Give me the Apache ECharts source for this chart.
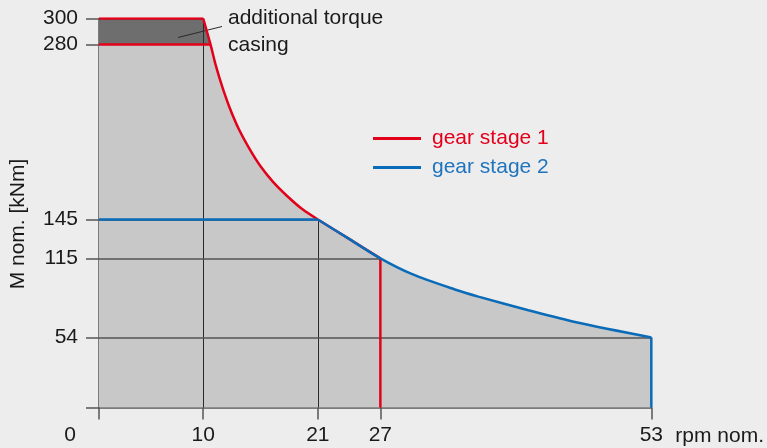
<!DOCTYPE html>
<html>
<head>
<meta charset="utf-8">
<script src="https://cdn.jsdelivr.net/npm/echarts@6/dist/echarts.min.js"></script>
<style>
html,body{margin:0;padding:0;background:#ededed;}
#chart{width:767px;height:448px;}
</style>
</head>
<body>
<div id="chart"></div>
<script>
// ---- data ----
var xTicks = [0, 10, 21, 27, 53];
var yTicks = [0, 54, 115, 145, 280, 300];
var yLabels = [54, 115, 145, 280, 300];
// gear stage 1 (red)
var stage1Top = [[0, 300], [10, 300]];
var stage1Curve = [[10, 300], [10.7, 280], [11.2, 264], [11.8, 248], [12.5, 232], [13.4, 215], [14.4, 200], [15.5, 186], [16.7, 174], [18, 163.5], [19.5, 153], [21, 145]];
var stage1Shared = [[21, 145], [24, 130], [27, 115]];
var stage1Drop = [[27, 115], [27, 0]];
var casingBase = [[0, 280], [10.7, 280]];
// gear stage 2 (blue)
var stage2Flat = [[0, 145], [21, 145]];
var stage2Curve = [[21, 145], [24, 130], [27, 115], [30, 103], [34.15, 91], [36.4, 85.5], [41.2, 75], [45.9, 65.5], [53, 54]];
var stage2Drop = [[53, 54], [53, 0]];
// corner points of guide lines
var corners = [[10, 300], [21, 145], [27, 115], [53, 54]];
var casingLevel = 280;

var RED = '#e3001b', BLUE = '#0a6cb8';
var FONT = 'Liberation Sans, Arial, Helvetica, sans-serif';

var casingArea = stage1Top.concat([stage1Curve[1]]);

var guides = [];
corners.forEach(function (c) {
  guides.push([{ coord: [c[0], c[1]], lineStyle: { color: '#2a2a2a', width: 1, type: 'solid' } }, { coord: [c[0], 0] }]);
  guides.push([{ coord: [0, c[1]], lineStyle: { color: '#555', width: 1.5, type: 'solid' } }, { coord: [c[0], c[1]] }]);
});

var chart = echarts.init(document.getElementById('chart'));
function lineSeries(name, data, color, smooth, z) {
  return { name: name, type: 'line', data: data, smooth: smooth ? 0.3 : false,
    showSymbol: false, symbol: 'none',
    lineStyle: { color: color, width: 2.5 }, itemStyle: { color: color }, z: z, silent: true, animation: false };
}
function fillSeries(data, smooth) {
  return { name: 'fill', type: 'line', data: data, showSymbol: false, symbol: 'none',
    smooth: smooth ? 0.3 : false,
    lineStyle: { width: 0 }, areaStyle: { color: '#c8c8c8', opacity: 1 }, z: 1, silent: true };
}
chart.setOption({
  backgroundColor: '#ededed',
  animation: false,
  textStyle: { fontFamily: FONT },
  grid: { left: 99, right: 113, top: 18.5, bottom: 40.5 },
  legend: {
    orient: 'vertical', left: 373, top: 128, padding: 0, itemGap: 8, itemWidth: 48, itemHeight: 3, icon: 'rect',
    textStyle: { fontSize: 21, fontFamily: FONT, padding: [0, 0, 0, 6] },
    data: [
      { name: 'gear stage 1', textStyle: { color: RED } },
      { name: 'gear stage 2', textStyle: { color: '#1f74bd' } }
    ]
  },
  xAxis: {
    type: 'value', min: 0, max: 53,
    name: '{n|rpm nom.}', nameLocation: 'end', nameGap: 24,
    nameTextStyle: { fontSize: 21, color: '#1a1a1a', fontFamily: FONT,
      rich: { n: { fontSize: 21, color: '#1a1a1a', fontFamily: FONT, padding: [58, 0, 0, 0] } } },
    splitLine: { show: false },
    axisLine: { show: true, lineStyle: { color: '#555', width: 1.5 } },
    axisTick: { show: true, customValues: xTicks, length: 12, lineStyle: { color: '#555', width: 1.5 } },
    axisLabel: {
      customValues: xTicks, margin: 17, fontSize: 21, color: '#1a1a1a', fontFamily: FONT,
      formatter: function (v) { return v === 0 ? '{o|0}' : String(v); },
      rich: { o: { fontSize: 21, color: '#1a1a1a', fontFamily: FONT, padding: [0, 58, 0, 0] } }
    }
  },
  yAxis: {
    type: 'value', min: 0, max: 300,
    name: 'M nom. [kNm]', nameLocation: 'middle', nameGap: 70, nameRotate: 90,
    nameTextStyle: { fontSize: 21, color: '#1a1a1a', fontFamily: FONT, padding: [0, 22, 0, 0] },
    splitLine: { show: false },
    axisLine: { show: true, lineStyle: { color: '#555', width: 1.5 } },
    axisTick: { show: true, customValues: yTicks, length: 13, lineStyle: { color: '#555', width: 1.5 } },
    axisLabel: { customValues: yLabels, margin: 21, fontSize: 21, color: '#1a1a1a', fontFamily: FONT }
  },
  graphic: [
    { type: 'text', left: 228, top: 5, z: 10,
      style: { text: 'additional torque\ncasing', fontSize: 21, lineHeight: 27, fill: '#1a1a1a', fontFamily: FONT } },
    { type: 'line', z: 10, shape: { x1: 178, y1: 37.5, x2: 222, y2: 26.5 }, style: { stroke: '#2a2a2a', lineWidth: 1 } }
  ],
  series: [
    fillSeries(stage1Top, false),
    fillSeries(stage1Curve, true),
    fillSeries(stage2Curve, true),
    { name: 'casing', type: 'line', data: casingArea, showSymbol: false, symbol: 'none',
      lineStyle: { width: 0 }, areaStyle: { color: '#6e6e6e', opacity: 1, origin: casingLevel }, z: 2, silent: true },
    { name: 'guides', type: 'line', data: [], z: 3, silent: true,
      markLine: { silent: true, z: 3, symbol: 'none', label: { show: false }, animation: false, data: guides } },
    lineSeries('gear stage 1', stage1Top, RED, false, 10),
    lineSeries('gear stage 1', casingBase, RED, false, 10),
    lineSeries('gear stage 1', stage1Curve, RED, true, 10),
    lineSeries('gear stage 1', stage1Shared, RED, true, 10),
    lineSeries('gear stage 1', stage1Drop, RED, false, 10),
    lineSeries('gear stage 2', stage2Flat, BLUE, false, 11),
    lineSeries('gear stage 2', stage2Curve, BLUE, true, 11),
    lineSeries('gear stage 2', stage2Drop, BLUE, false, 11)
  ]
});
</script>
</body>
</html>
